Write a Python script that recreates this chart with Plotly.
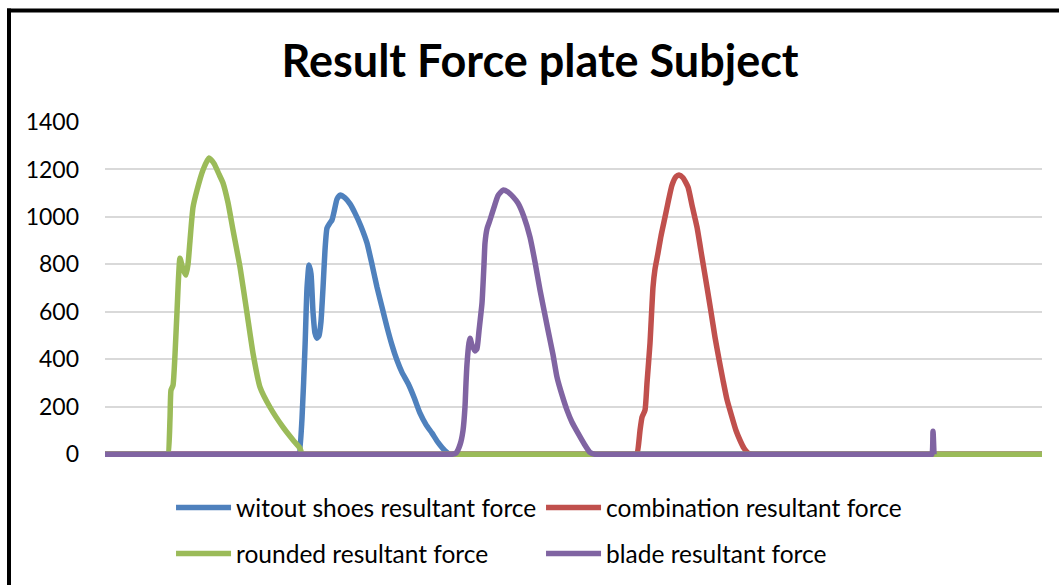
import plotly.graph_objects as go

# Resultant force (N) against sample number for each footwear condition
witout_s = [0, 192, 194, 197, 200, 202, 204, 206, 208, 210, 212, 214, 216, 218, 220, 222, 225, 227, 229,
            232, 235, 240, 245, 250, 256, 262, 267, 272, 277, 282, 287, 292, 297, 303, 309, 315, 321,
            327, 333, 340, 345, 348, 937]
witout_f = [0, 0, 0, 150, 450, 700, 797, 760, 600, 510, 489, 500, 560, 700, 860, 953, 975, 987, 1020,
            1075, 1092, 1080, 1055, 1016, 960, 890, 800, 704, 620, 536, 460, 396, 345, 299, 240, 173,
            125, 89, 50, 15, 0, 0, 0]

combination_s = [0, 530, 532, 535, 537, 540, 542, 545, 548, 550, 553, 556, 560, 563, 567, 571, 574, 578,
                 583, 587, 592, 597, 602, 606, 610, 614, 618, 622, 627, 631, 635, 639, 643, 647, 650, 937]
combination_f = [0, 0, 0, 100, 156, 186, 300, 468, 704, 780, 848, 920, 999, 1060, 1134, 1170, 1177, 1165,
                 1126, 1050, 957, 830, 704, 600, 493, 400, 312, 230, 156, 100, 59, 25, 5, 0, 0, 0]

rounded_s = [0, 61, 63, 65, 66, 68, 70, 72, 75, 78, 81, 83, 85, 88, 92, 98, 104, 109, 114, 118, 123, 128,
             135, 142, 148, 155, 165, 178, 188, 195, 197, 200, 937]
rounded_f = [0, 0, 0, 150, 270, 290, 420, 600, 826, 780, 755, 800, 900, 1040, 1113, 1198, 1248, 1225, 1180,
             1143, 1060, 945, 789, 595, 426, 283, 198, 114, 60, 25, 0, 0, 0]

blade_s = [0, 344, 347, 351, 355, 358, 360, 361, 362, 364, 365, 367, 370, 372, 374, 377, 379, 380, 382, 385,
           389, 393, 398, 403, 408, 413, 419, 425, 430, 435, 443, 448, 452, 457, 462, 467, 473, 479, 485,
           490, 493, 825, 827, 828, 829]
blade_f = [0, 0, 0, 5, 40, 100, 200, 300, 380, 470, 489, 460, 435, 445, 520, 637, 800, 890, 950, 987, 1040,
           1090, 1113, 1105, 1085, 1058, 1000, 915, 810, 692, 523, 420, 325, 250, 186, 135, 89, 45, 8, 0,
           0, 0, 0, 97, 0]

y_ticks = [0, 200, 400, 600, 800, 1000, 1200, 1400]

series = [
    ("witout shoes resultant force", witout_s, witout_f, "#4F81BD", "legend"),
    ("combination resultant force", combination_s, combination_f, "#C0504D", "legend"),
    ("rounded resultant force", rounded_s, rounded_f, "#9BBB59", "legend2"),
    ("blade resultant force", blade_s, blade_f, "#8064A2", "legend2"),
]

FONT = "Lato"

# y range extends slightly below zero so the baseline strokes are not cut in half
Y_MIN, Y_MAX = -20, 1400
PLOT_TOP = 122
PX_PER_UNIT = 332 / 1400
plot_h = (Y_MAX - Y_MIN) * PX_PER_UNIT
bottom_margin = 585 - PLOT_TOP - plot_h

fig = go.Figure()
for name, xs, ys, color, leg in series:
    fig.add_trace(go.Scatter(
        x=xs, y=ys, name=name, mode="lines",
        line=dict(color=color, width=5.5, shape="spline", smoothing=0.5),
        legend=leg,
    ))

legend_common = dict(
    orientation="h",
    xref="container",
    yref="container",
    xanchor="left",
    yanchor="top",
    font=dict(family=FONT, size=24.5, color="#000000"),
    bgcolor="rgba(0,0,0,0)",
    entrywidth=300,
    itemwidth=55,
    traceorder="normal",
)

fig.update_layout(
    width=1059,
    height=585,
    paper_bgcolor="white",
    plot_bgcolor="white",
    margin=dict(l=105, r=17, t=PLOT_TOP, b=bottom_margin),
    title=dict(
        text="<b>Result Force plate Subject</b>",
        font=dict(family=FONT, size=45, color="#000000"),
        x=0.51, xanchor="center",
        y=0.896, yanchor="middle",
        xref="container", yref="container",
    ),
    xaxis=dict(
        range=[0, 937],
        showticklabels=False,
        showgrid=False,
        zeroline=False,
        ticks="",
        showline=False,
    ),
    yaxis=dict(
        range=[Y_MIN, Y_MAX],
        tickvals=y_ticks,
        ticktext=[str(v) for v in y_ticks],
        showgrid=True,
        gridcolor="#D9D9D9",
        gridwidth=1.5,
        zeroline=False,
        showline=False,
        ticks="",
        ticklabelstandoff=25,
        tickfont=dict(family=FONT, size=23, color="#000000"),
    ),
    legend=dict(x=0.1615, y=0.171, **legend_common),
    legend2=dict(x=0.1615, y=0.0923, **legend_common),
    showlegend=True,
)

# Outer chart frame (left and top edges), placed in container pixels
def px_to_paper_x(px):
    return (px - 105) / 937

def px_to_paper_y(py):
    return (585 - bottom_margin - py) / plot_h

fig.add_shape(type="line", xref="paper", yref="paper",
              x0=px_to_paper_x(9), x1=px_to_paper_x(9),
              y0=px_to_paper_y(590), y1=px_to_paper_y(8.5),
              line=dict(color="black", width=4), layer="above")
fig.add_shape(type="line", xref="paper", yref="paper",
              x0=px_to_paper_x(7), x1=px_to_paper_x(1065),
              y0=px_to_paper_y(10.5), y1=px_to_paper_y(10.5),
              line=dict(color="black", width=4), layer="above")

fig.write_html("out.html")
